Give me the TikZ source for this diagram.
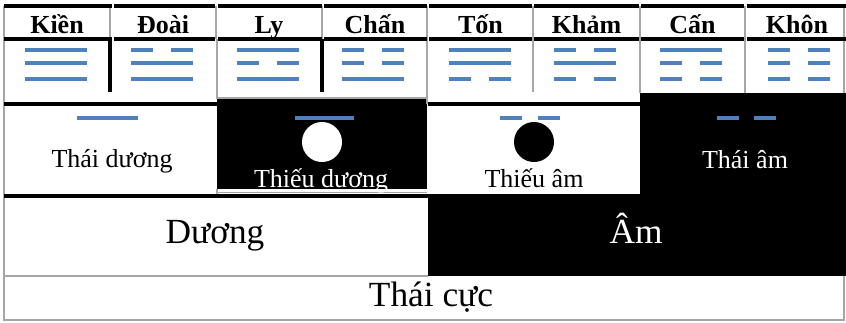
\documentclass[tikz,border=0pt]{standalone}
\usepackage{fontspec}
\setmainfont{Liberation Serif}
\definecolor{yblue}{HTML}{4F81BD}
\definecolor{ygray}{HTML}{A6A6A6}
\begin{document}
\begin{tikzpicture}[x=0.75pt,y=-0.75pt,
  yao/.style={yblue,line width=2.5pt},
  heavyrule/.style={black,line width=2.4pt},
  lightrule/.style={ygray,line width=0.8pt},
  head/.style={font=\fontsize{19.5}{20}\selectfont\bfseries,anchor=base,inner sep=0pt},
  lbl/.style={font=\fontsize{19.5}{20}\selectfont,anchor=base,inner sep=0pt},
  big/.style={font=\fontsize{26.5}{28}\selectfont,anchor=base,inner sep=0pt}]
\useasboundingbox (0,0) rectangle (846,322);
\fill[white] (0,0) rectangle (846,322);

% black cells
\fill[black] (217,98) rectangle (427,189);
\fill[black] (640,93) rectangle (846,197);
\fill[black] (428,197) rectangle (846,276);

% thin grey frame and cell borders
\draw[lightrule] (4,6) -- (4,320) -- (844,320) -- (844,276);
\draw[lightrule] (4,276) -- (428,276);
\draw[lightrule] (844,6) -- (844,93);
\foreach \x in {110,216,322,427,533,640,745}
  \draw[lightrule] (\x,6) -- (\x,39);
\draw[lightrule] (217,39) -- (217,98) -- (427,98);
\draw[lightrule] (427,39) -- (427,104);
\draw[lightrule] (533,39) -- (533,92);
\draw[lightrule] (640,39) -- (640,93);
\draw[lightrule] (745,39) -- (745,93);
\draw[lightrule] (217,189) -- (217,196);
\draw[lightrule] (217,192) -- (427,192);

% heavy rules
\foreach \a/\b in {4/112,114/215,218/322,324/427,429/532,534/639,641/744,747/846}{
  \draw[heavyrule] (\a,6) -- (\b,6);
  \draw[heavyrule] (\a,39) -- (\b,39);
}
\draw[heavyrule] (110,39) -- (110,92);
\draw[heavyrule] (322,39) -- (322,92);
\draw[heavyrule] (4,104) -- (217,104);
\draw[heavyrule] (428,104) -- (640,104);
\draw[heavyrule] (4,196) -- (640,196);

% header labels
\node[head] (kien)  at (57,33)    {Kiền};
\node[head] (doai)  at (163,33)   {Đoài};
\node[head] (ly)    at (269,33)   {Ly};
\node[head] (chan)  at (375,33)   {Chấn};
\node[head] (ton)   at (480.5,33) {Tốn};
\node[head] (kham)  at (586.5,33) {Khảm};
\node[head] (can)   at (692.5,33) {Cấn};
\node[head] (khon)  at (797,33)   {Khôn};

% trigrams: centre / top / middle / bottom (1 = solid, 0 = broken)
\foreach \c/\t/\m/\u in {56/1/1/1,162/0/1/1,267.5/1/0/1,372.5/0/0/1,
                         479.5/1/1/0,584.5/0/1/0,691/1/0/0,798.5/0/0/0}{
  \foreach \y/\v in {50/\t,63/\m,79/\u}{
    \ifnum\v=1
      \draw[yao] (\c-31,\y) -- (\c+31,\y);
    \else
      \draw[yao] (\c-31,\y) -- (\c-9,\y);
      \draw[yao] (\c+9,\y) -- (\c+31,\y);
    \fi
  }
}

% digrams
\draw[yao] (77,118) -- (138,118);
\draw[yao] (295,118) -- (354,118);
\draw[yao] (500,118) -- (522,118);
\draw[yao] (538,118) -- (560,118);
\draw[yao] (717,118) -- (739,118);
\draw[yao] (754,118) -- (776,118);

% dots
\fill[white] (322,142) circle[radius=15pt];
\fill[black] (534,142) circle[radius=15pt];

% four images
\node[lbl] (thaiduong) at (112,167) {Thái dương};
\node[lbl,text=white] (thieuduong) at (321,187) {Thiếu dương};
\fill[white] (218,189.6) rectangle (427,191.5);
\node[lbl] (thieuam) at (534,187) {Thiếu âm};
\node[lbl,text=white] (thaiam) at (745,168) {Thái âm};

% two modes and origin
\node[big] (duong) at (215,243) {Dương};
\node[big,text=white] (am) at (636,243) {Âm};
\node[big] (thaicuc) at (431,306) {Thái cực};
\end{tikzpicture}
\end{document}
